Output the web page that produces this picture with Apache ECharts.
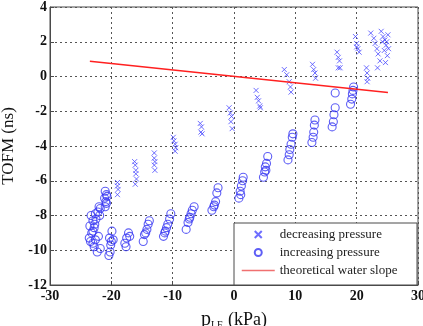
<!DOCTYPE html>
<html>
<head>
<meta charset="utf-8">
<script src="https://cdn.jsdelivr.net/npm/echarts@6/dist/echarts.min.js"></script>
<style>
  html, body { margin: 0; padding: 0; background: #fff; }
  #chart { width: 423px; height: 326px; }
</style>
</head>
<body>
<div id="chart"></div>
<script>
// decreasing pressure (x marks): [pLF kPa, TOFM ns]
var decreasing = [
  [-19.0,-6.1],[-19.0,-6.3],[-18.9,-6.5],[-19.0,-6.8],
  [-16.2,-4.9],[-16.1,-5.1],[-16.0,-5.4],[-16.0,-5.6],[-15.9,-5.9],[-16.1,-6.2],
  [-13.0,-4.4],[-13.0,-4.7],[-12.9,-4.9],[-13.0,-5.1],[-12.9,-5.4],
  [-9.9,-3.5],[-9.8,-3.7],[-9.6,-3.9],[-9.5,-4.1],[-9.6,-4.3],
  [-5.5,-2.7],[-5.3,-2.9],[-5.2,-3.3],[-5.4,-3.2],
  [-0.8,-1.8],[-0.6,-2.1],[-0.4,-2.3],[-0.5,-2.6],[-0.3,-3.0],
  [3.6,-0.8],[3.8,-1.2],[4.0,-1.4],[4.2,-1.7],[4.3,-1.8],
  [8.2,0.4],[8.6,0.1],[9.0,-0.3],[9.2,-0.6],[9.3,-0.9],
  [12.8,0.7],[13.0,0.4],[13.2,0.2],[13.3,-0.1],
  [16.8,1.4],[17.0,1.1],[17.2,0.9],[17.0,0.5],[17.3,0.5],
  [19.8,2.3],[20.0,1.9],[20.2,1.6],[20.4,1.4],[20.0,1.7],
  [21.6,0.5],[21.7,0.2],[21.8,-0.1],[21.7,-0.3],
  [22.3,2.5],[22.8,2.2],[23.0,1.9],[23.3,1.6],[23.5,1.3],[23.8,0.9],[23.4,0.5],
  [24.0,2.6],[24.3,2.3],[24.6,2.1],[24.8,1.8],[24.5,1.5],[25.0,1.2],[24.7,0.8],
  [24.2,2.0],[25.1,2.4],[24.9,2.0],[25.2,1.6]
];

// increasing pressure (circles)
var increasing = [
  [-23.3,-8.0],[-23.0,-8.3],[-23.5,-8.6],[-22.8,-8.7],[-23.2,-9.0],[-22.5,-8.2],[-22.2,-7.8],
  [-22.0,-7.5],[-21.8,-7.6],[-22.6,-7.9],[-23.6,-9.3],[-23.4,-9.5],[-23.0,-9.6],[-22.6,-9.4],
  [-22.1,-9.2],[-21.8,-9.9],[-22.3,-10.1],[-22.8,-9.8],[-23.0,-8.9],[-22.7,-8.5],[-21.9,-8.0],
  [-21.0,-6.6],[-20.8,-6.8],[-21.1,-7.0],[-20.9,-7.2],[-21.0,-7.5],[-20.7,-6.9],[-20.8,-7.3],
  [-20.3,-9.3],[-20.0,-9.5],[-19.7,-9.4],[-20.2,-10.1],[-20.4,-10.3],[-19.9,-8.9],[-20.1,-9.7],
  [-17.8,-9.6],[-17.5,-9.3],[-17.2,-9.0],[-17.6,-9.8],[-17.0,-9.2],
  [-14.8,-9.5],[-14.4,-9.0],[-14.2,-8.8],[-14.0,-8.5],[-13.8,-8.3],[-14.6,-9.1],
  [-11.5,-9.2],[-11.2,-8.9],[-11.0,-8.7],[-10.8,-8.5],[-10.5,-8.2],[-10.3,-7.9],[-11.3,-9.0],
  [-7.8,-8.8],[-7.5,-8.4],[-7.2,-8.1],[-7.0,-7.9],[-6.8,-7.7],[-6.5,-7.5],[-7.3,-8.2],
  [-3.6,-7.7],[-3.3,-7.5],[-3.0,-7.2],[-2.8,-6.7],[-2.6,-6.4],[-3.2,-7.4],
  [0.8,-7.0],[1.0,-6.6],[1.2,-6.3],[1.4,-6.0],[1.5,-5.8],[1.1,-6.8],
  [4.8,-5.8],[5.0,-5.5],[5.1,-5.2],[5.3,-5.0],[5.5,-4.6],[5.2,-5.4],
  [8.8,-4.8],[9.0,-4.5],[9.1,-4.2],[9.3,-3.9],[9.5,-3.5],[9.6,-3.3],
  [12.7,-3.8],[12.9,-3.5],[13.0,-3.2],[13.1,-2.8],[13.2,-2.5],
  [16.0,-2.9],[16.2,-2.6],[16.3,-2.2],[16.5,-1.8],[16.5,-0.95],
  [19.0,-1.6],[19.2,-1.3],[19.3,-1.0],[19.4,-0.8],[19.5,-0.6]
];

// theoretical water slope (end points)
var waterSlope = [[-23.5, 0.88], [25.1, -0.92]];

var xTicks = [-30, 30, 10];
var yTicks = [-12, 4, 2];

var blue = '#3636f2';
var serif = '"Liberation Serif", "DejaVu Serif", serif';

var chart = echarts.init(document.getElementById('chart'));

var option = {
  animation: false,
  textStyle: { fontFamily: serif },
  grid: {
    left: 50, right: 5, top: 7, bottom: 41,
    outerBoundsMode: 'none',
    containLabel: false,
    show: true, borderColor: '#4a4a4a', borderWidth: 1
  },
  xAxis: {
    type: 'value',
    min: xTicks[0], max: xTicks[1], interval: xTicks[2],
    axisLine: { show: true, onZero: false, lineStyle: { color: '#4a4a4a' } },
    axisTick: { inside: true, length: 4, lineStyle: { color: '#4a4a4a' } },
    axisLabel: { color: '#111', fontFamily: serif, fontSize: 14, fontWeight: 'bold', margin: 4 },
    splitLine: { show: true, lineStyle: { color: '#555', type: [2, 3], width: 1 } },
    name: '{p|p}{sub|LF} (kPa)',
    nameLocation: 'middle',
    nameGap: 22,
    nameTextStyle: {
      color: '#111', fontFamily: serif, fontSize: 18, lineHeight: 20,
      rich: {
        p: { fontFamily: serif, fontSize: 20, color: '#111', lineHeight: 20 },
        sub: { fontFamily: serif, fontSize: 10, color: '#111', lineHeight: 20, verticalAlign: 'bottom', padding: [12, 1, 0, 0] }
      }
    }
  },
  yAxis: {
    type: 'value',
    min: yTicks[0], max: yTicks[1], interval: yTicks[2],
    axisLine: { show: true, onZero: false, lineStyle: { color: '#4a4a4a' } },
    axisTick: { inside: true, length: 4, lineStyle: { color: '#4a4a4a' } },
    axisLabel: { color: '#111', fontFamily: serif, fontSize: 14, fontWeight: 'bold', margin: 3 },
    splitLine: { show: true, lineStyle: { color: '#555', type: [2, 3], width: 1 } },
    name: 'TOFM (ns)',
    nameLocation: 'middle',
    nameGap: 19,
    nameTextStyle: { color: '#111', fontFamily: serif, fontSize: 17 }
  },
  legend: {
    orient: 'vertical',
    left: 236, top: 223,
    itemWidth: 33, itemHeight: 7, itemGap: 5,
    textStyle: { fontFamily: serif, fontSize: 13, color: '#222' },
    data: [
      'decreasing pressure',
      'increasing pressure',
      { name: 'theoretical water slope', itemStyle: { color: 'rgba(0,0,0,0)', borderWidth: 0 },
        lineStyle: { color: '#f07070', width: 1.5 } }
    ]
  },
  graphic: [{
    type: 'rect',
    z: 3,
    shape: { x: 234, y: 223, width: 183, height: 62 },
    style: { fill: '#fff', stroke: '#4a4a4a', lineWidth: 1 }
  }],
  series: [
    {
      name: 'decreasing pressure',
      type: 'scatter',
      data: decreasing,
      symbol: 'path://M0,0L10,10M10,0L0,10',
      symbolSize: 5,
      itemStyle: { color: 'none', borderColor: '#4a4aff', borderWidth: 1 }
    },
    {
      name: 'increasing pressure',
      type: 'scatter',
      data: increasing,
      symbol: 'circle',
      symbolSize: 8,
      itemStyle: { color: 'none', borderColor: blue, borderWidth: 1.1 }
    },
    {
      name: 'theoretical water slope',
      type: 'line',
      data: waterSlope,
      symbol: 'none',
      lineStyle: { color: '#ff2020', width: 1.5 }
    }
  ]
};

chart.setOption(option);
</script>
</body>
</html>
